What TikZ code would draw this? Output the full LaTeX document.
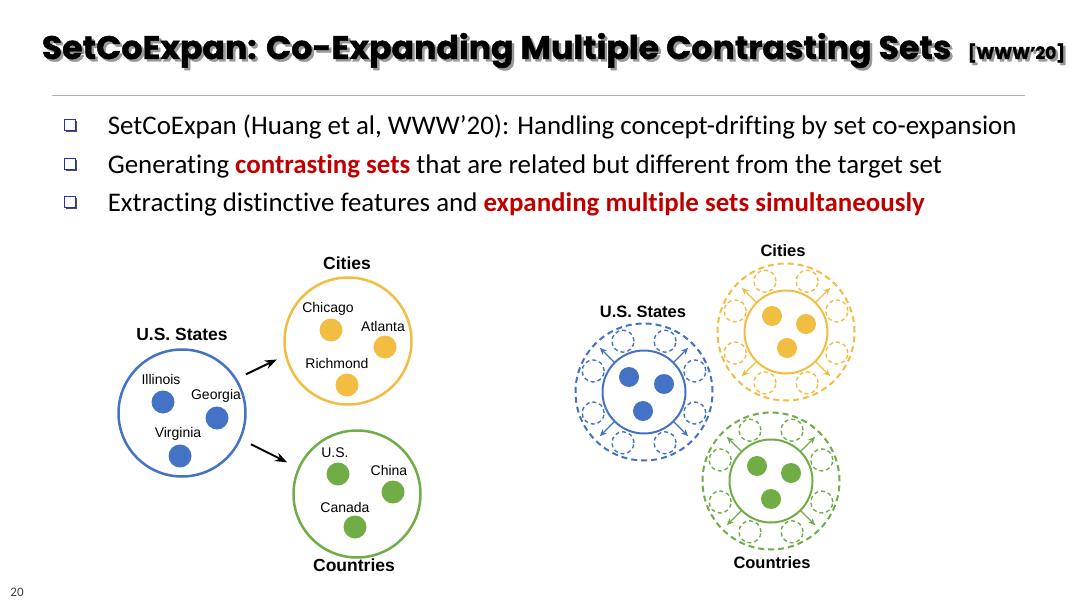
\documentclass[tikz,border=0pt]{standalone}
\usepackage{fontspec}
\setmainfont{Carlito}[Ligatures=NoCommon]
\newfontfamily\titulofont{Poppins}[BoldFeatures={FakeBold=1.2}]
\newfontfamily\arialfont{Liberation Sans}
\usetikzlibrary{arrows.meta,shadows}
\definecolor{conjazul}{RGB}{68,114,196}
\definecolor{conjoro}{RGB}{242,190,66}
\definecolor{conjverde}{RGB}{112,173,71}
\definecolor{textorojo}{RGB}{192,0,0}
\definecolor{vinetaazul}{RGB}{40,50,180}

\begin{document}
\begin{tikzpicture}[x=1pt, y=-1pt, >=Stealth, line width=1pt,
    cuerpo/.style={anchor=base west, font=\fontsize{26.9}{30}\selectfont},
    vineta/.style={rectangle, draw=vinetaazul, fill=white, line width=1.3pt, minimum size=11pt, inner sep=0pt,
      drop shadow={shadow xshift=1.6pt, shadow yshift=-1.6pt, fill=black!70, opacity=1}},
    conj/.style={circle, line width=2.5pt, minimum size=127pt, inner sep=0pt},
    punto/.style={circle, inner sep=0pt, minimum size=23pt},
    puntito/.style={circle, inner sep=0pt, minimum size=20pt},
    etiq/.style={font=\arialfont\fontsize{14}{16}\selectfont},
    cabeza/.style={font=\arialfont\bfseries\fontsize{17.5}{20}\selectfont},
    cabeza2/.style={font=\arialfont\bfseries\fontsize{16.5}{19}\selectfont},
    titulo/.style={anchor=base west, font=\titulofont\bfseries\fontsize{32.5}{36}\selectfont}]
    \useasboundingbox[fill=white] (0,0) rectangle (1080,602);
    % titulo
    \node[titulo, text=black!40] (titsombra) at (40.5,61.5) {\scalebox{1.02}[1]{SetCoExpan: Co-Expanding Multiple Contrasting Sets}};
    \node[titulo] (tit) at (38,59) {\scalebox{1.02}[1]{SetCoExpan: Co-Expanding Multiple Contrasting Sets}};
    \node[titulo, text=black!40, font=\titulofont\bfseries\fontsize{17}{20}\selectfont] (refsombra) at (966.5,61.5) {[WWW’20]};
    \node[titulo, font=\titulofont\bfseries\fontsize{17}{20}\selectfont] (ref) at (964,59) {[WWW’20]};
    \draw[black!30] (52,96) -- (1025,96);
    % vinetas
    \node[vineta] (v1) at (70,125) {};
    \node[vineta] (v2) at (70,164) {};
    \node[vineta] (v3) at (70,202) {};
    \node[cuerpo] (b1) at (104,134) {SetCoExpan (Huang et al, WWW’20): Handling concept-drifting by set co-expansion};
    \node[cuerpo] (b2) at (104,173) {Generating \textcolor{textorojo}{\bfseries contrasting sets} that are related but different from the target set};
    \node[cuerpo] (b3) at (104,211) {Extracting distinctive features and \textcolor{textorojo}{\bfseries expanding multiple sets simultaneously}};
    % diagrama izquierdo
    \node[conj, draw=conjazul] (ee) at (182,413) {};
    \node[conj, draw=conjoro] (ci) at (348,341) {};
    \node[conj, draw=conjverde] (pa) at (357,494) {};
    \node[cabeza] (eeT) at (182,334) {U.S. States};
    \node[cabeza] (ciT) at (347,263) {Cities};
    \node[cabeza] (paT) at (354,565) {Countries};
    \node[punto, fill=conjazul] (il) at (163,402) {};
    \node[punto, fill=conjazul] (ge) at (217,418) {};
    \node[punto, fill=conjazul] (vi) at (180,456) {};
    \node[punto, fill=conjoro] (ch) at (331,330) {};
    \node[punto, fill=conjoro] (at) at (385,347) {};
    \node[punto, fill=conjoro] (ri) at (347,385) {};
    \node[punto, fill=conjverde] (us) at (338,474) {};
    \node[punto, fill=conjverde] (cn) at (393,492) {};
    \node[punto, fill=conjverde] (ca) at (355,527) {};
    \node[etiq] (ilT) at (161,379) {Illinois};
    \node[etiq] (geT) at (216,396) {Georgia};
    \node[etiq] (viT) at (178,434) {Virginia};
    \node[etiq] (chT) at (328,309) {Chicago};
    \node[etiq] (atT) at (383,326) {Atlanta};
    \node[etiq] (riT) at (337,363) {Richmond};
    \node[etiq] (usT) at (335,453) {U.S.};
    \node[etiq] (cnT) at (389,470) {China};
    \node[etiq] (caT) at (345,507) {Canada};
    \draw[->, line width=2pt, shorten <=10pt, shorten >=9pt] (ee.32) -- (ci.193);
    \draw[->, line width=2pt, shorten <=11pt, shorten >=12pt] (ee.-24) -- (pa.156);
    % diagrama derecho
    \foreach \col/\cx/\cy/\nom in {conjazul/644/392/de, conjoro/786/332/dc, conjverde/771/481/dp}{
      \node[circle, draw=\col, dash pattern=on 6pt off 4pt, line width=2pt, minimum size=137pt, inner sep=0pt] (\nom ext) at (\cx,\cy) {};
      \node[circle, draw=\col, line width=2pt, minimum size=83pt, inner sep=0pt] (\nom int) at (\cx,\cy) {};
      \foreach \a in {22.5,67.5,...,337.5}
        \node[circle, draw=\col, dash pattern=on 4pt off 3pt, line width=1.4pt, minimum size=22pt, inner sep=0pt] (\nom p\a) at ([shift={(\a:55pt)}]\nom int.center) {};
      \foreach \a in {45,135,225,315}
        \draw[-{Stealth[length=7pt,width=6pt]}, \col, line width=1.1pt, shorten >=7pt] (\nom int.\a) -- (\nom ext.\a);
    }
    \node[cabeza2] (deT) at (643,312) {U.S. States};
    \node[cabeza2] (dcT) at (783,251) {Cities};
    \node[cabeza2] (dpT) at (772,563) {Countries};
    \node[puntito, fill=conjazul] (de1) at (629,377) {};
    \node[puntito, fill=conjazul] (de2) at (664,384) {};
    \node[puntito, fill=conjazul] (de3) at (643,411) {};
    \node[puntito, fill=conjoro] (dc1) at (772,316) {};
    \node[puntito, fill=conjoro] (dc2) at (806,324) {};
    \node[puntito, fill=conjoro] (dc3) at (787,348) {};
    \node[puntito, fill=conjverde] (dp1) at (757,466) {};
    \node[puntito, fill=conjverde] (dp2) at (791,473) {};
    \node[puntito, fill=conjverde] (dp3) at (771,499) {};
    \node[text=black!75, font=\fontsize{13}{15}\selectfont] (pag) at (17,592) {20};
\end{tikzpicture}
\end{document}
